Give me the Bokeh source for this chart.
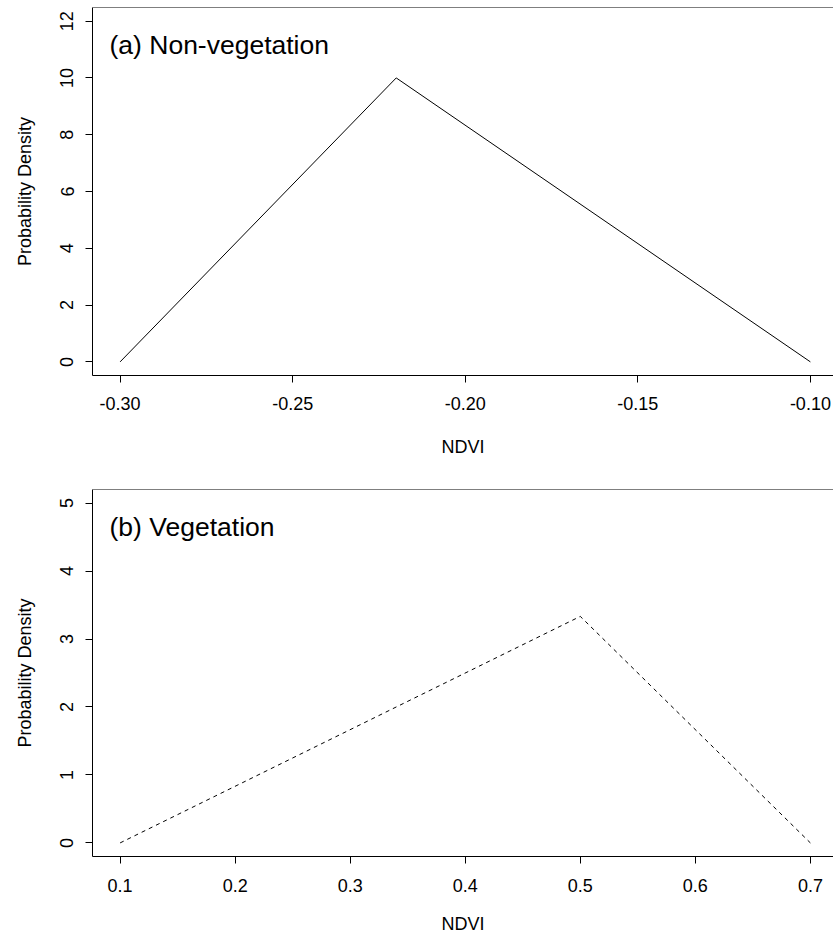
from bokeh.plotting import figure
from bokeh.models import FixedTicker, PrintfTickFormatter, Label, Span, Range1d
from bokeh.layouts import column
from bokeh.embed import file_html
from bokeh.resources import INLINE

FONT = "Liberation Sans"

# ---- data: panel (a) Non-vegetation ----
ndvi_a = [-0.30, -0.22, -0.10]
dens_a = [0.0, 10.0, 0.0]
xticks_a = [-0.30, -0.25, -0.20, -0.15, -0.10]
yticks_a = [0, 2, 4, 6, 8, 10, 12]
xlim_a = [-0.30, -0.10]
ylim_a = [0, 12]
label_a = "(a) Non-vegetation"

# ---- data: panel (b) Vegetation ----
ndvi_b = [0.1, 0.5, 0.7]
dens_b = [0.0, 3.333, 0.0]
xticks_b = [0.1, 0.2, 0.3, 0.4, 0.5, 0.6, 0.7]
yticks_b = [0, 1, 2, 3, 4, 5]
xlim_b = [0.1, 0.7]
ylim_b = [0, 5]
label_b = "(b) Vegetation"

x_title = "NDVI"
y_title = "Probability Density"

W = 833
LEFT = 92
CROP = (W - LEFT) / 745.5  # reference frame is cut off on the right


def make_panel(x, y, xt, yt, xlim, ylim, lab, fmt, height, top, bottom, dash,
               label_standoff, title_standoff):
    xpad = (xlim[1] - xlim[0]) * 0.04
    ypad = (ylim[1] - ylim[0]) * 0.04
    xs = xlim[0] - xpad
    xe = xs + (xlim[1] - xlim[0] + 2 * xpad) * CROP
    p = figure(width=W, height=height, output_backend="svg", toolbar_location=None,
               x_range=Range1d(xs, xe), y_range=Range1d(ylim[0] - ypad, ylim[1] + ypad),
               min_border_left=LEFT, min_border_right=0, min_border_top=top,
               min_border_bottom=bottom)
    p.outline_line_color = None
    p.xgrid.visible = False
    p.ygrid.visible = False
    p.background_fill_color = "white"
    p.border_fill_color = "white"
    p.line(x, y, line_color="black", line_width=1, line_dash=dash)

    for ax in (p.xaxis[0], p.yaxis[0]):
        ax.axis_line_color = "black"
        ax.axis_line_width = 1
        ax.major_tick_line_color = "black"
        ax.major_tick_out = 7
        ax.major_tick_in = 0
        ax.minor_tick_line_color = None
        ax.major_label_text_font = FONT
        ax.major_label_text_font_size = "18px"
        ax.major_label_text_color = "black"
        ax.axis_label_text_font = FONT
        ax.axis_label_text_font_size = "18px"
        ax.axis_label_text_font_style = "normal"
        ax.axis_label_text_color = "black"

    p.xaxis.ticker = FixedTicker(ticks=xt)
    p.xaxis.formatter = PrintfTickFormatter(format=fmt)
    p.xaxis.major_label_standoff = label_standoff
    p.xaxis.axis_label = x_title
    p.xaxis.axis_label_standoff = title_standoff

    p.yaxis.ticker = FixedTicker(ticks=yt)
    p.yaxis.axis_label = y_title
    p.yaxis.major_label_orientation = "parallel"
    p.yaxis.major_label_standoff = 12
    p.yaxis.axis_label_standoff = 23

    p.add_layout(Span(location=ylim[1] + ypad, dimension="width",
                      line_color="black", line_width=1))

    frame_h = height - top - bottom
    p.add_layout(Label(x=17, y=frame_h - 37, x_units="screen", y_units="screen",
                       text=lab, text_font=FONT, text_font_size="26.5px",
                       text_color="black", text_baseline="alphabetic", text_align="left"))
    return p


p1 = make_panel(ndvi_a, dens_a, xticks_a, yticks_a, xlim_a, ylim_a, label_a, "%.2f",
                480, 7, 105, "solid", 14, 24)
p2 = make_panel(ndvi_b, dens_b, xticks_b, yticks_b, xlim_b, ylim_b, label_b, "%.1f",
                458, 9, 82, "4 4", 15, 19)

layout = column(p1, p2, spacing=0)
open("out.html", "w").write(file_html(layout, INLINE))
